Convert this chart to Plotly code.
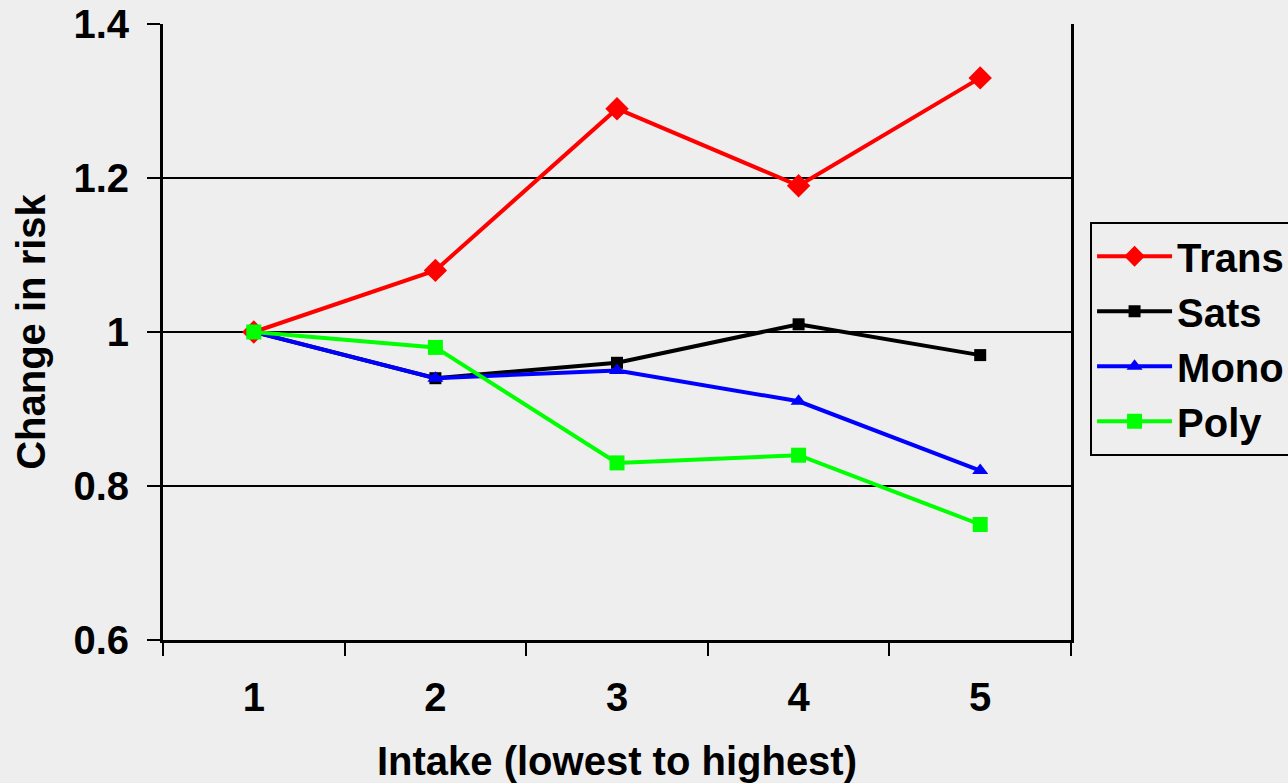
import plotly.graph_objects as go

# Intake quintiles and relative risk by type of fat
intake = ["1", "2", "3", "4", "5"]
trans = [1.00, 1.08, 1.29, 1.19, 1.33]
sats = [1.00, 0.94, 0.96, 1.01, 0.97]
mono = [1.00, 0.94, 0.95, 0.91, 0.82]
poly = [1.00, 0.98, 0.83, 0.84, 0.75]
y_ticks = [0.6, 0.8, 1.0, 1.2, 1.4]

FONT = "Arial, 'Liberation Sans', sans-serif"
BG = "#EEEEEE"
FS = 40

series = [
    ("Trans", trans, "#FF0000", "diamond", 18),
    ("Sats", sats, "#000000", "square", 12),
    ("Mono", mono, "#0000FF", "triangle-up", 14),
    ("Poly", poly, "#00FF00", "square", 15),
]

fig = go.Figure()
for name, vals, color, symbol, size in series:
    fig.add_trace(go.Scatter(
        x=intake, y=vals, name=name, mode="lines+markers",
        legendgroup=name,
        line=dict(color=color, width=4),
        marker=dict(symbol=symbol, size=size, color=color),
    ))

bold = dict(family=FONT, size=FS, color="#000000", weight="bold")

fig.update_layout(
    width=1288, height=783,
    paper_bgcolor=BG, plot_bgcolor=BG,
    margin=dict(l=163, r=217, t=24, b=143, autoexpand=False),
    font=bold,
    showlegend=True,
    legend=dict(
        x=1.021, y=0.679, xanchor="left", yanchor="top",
        bgcolor=BG, bordercolor="#000000", borderwidth=2,
        font=bold,
        tracegroupgap=0, traceorder="grouped",
        itemwidth=75,
    ),
)

fig.update_xaxes(
    type="category", range=[-0.5, 4.5],
    showline=True, linecolor="#000000", linewidth=2.5,
    ticks="outside", tickson="boundaries", ticklen=13, tickwidth=2, tickcolor="#000000",
    showgrid=False, ticklabelstandoff=20,
    tickfont=bold,
    title=dict(text="Intake (lowest to highest)", standoff=30, font=bold),
)

fig.update_yaxes(
    range=[0.6, 1.4], tickvals=y_ticks, ticktext=["0.6", "0.8", "1", "1.2", "1.4"],
    showline=True, linecolor="#000000", linewidth=3, mirror=True,
    ticks="outside", ticklen=13, tickwidth=2, tickcolor="#000000",
    showgrid=True, gridcolor="#000000", gridwidth=2,
    zeroline=False, ticklabelstandoff=10,
    tickfont=bold,
    title=dict(text="Change in risk", standoff=16, font=bold),
)

fig.write_html("out.html")
